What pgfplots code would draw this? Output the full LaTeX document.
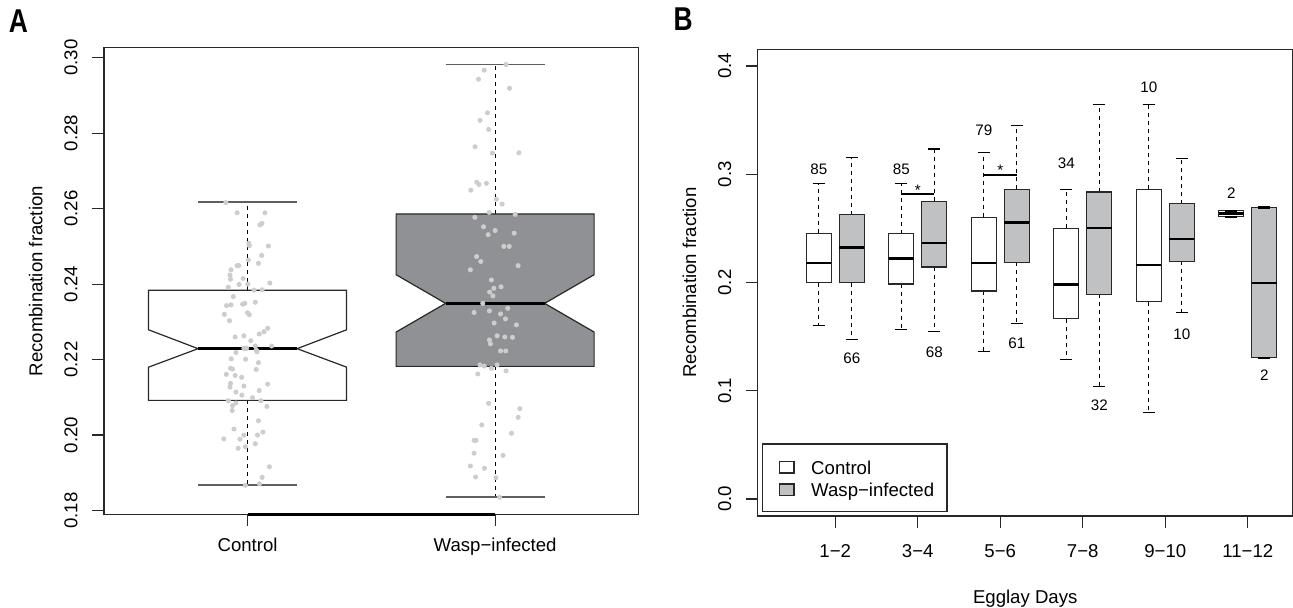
\documentclass[border=0pt]{standalone}
\usepackage{fontspec}
\setmainfont{Liberation Sans}
\usepackage{pgfplots}
\pgfplotsset{compat=1.18}
\definecolor{waspA}{RGB}{144,145,148}
\definecolor{waspB}{RGB}{192,193,195}
\definecolor{ptc}{RGB}{205,205,205}
\definecolor{frm}{RGB}{40,40,40}
\definecolor{capc}{RGB}{95,95,95}
\tikzset{wdash/.style={black, line width=0.6pt, dash pattern=on 2pt off 2pt}}
\begin{document}
\fontsize{9.3pt}{11pt}\selectfont
\begin{tikzpicture}
\useasboundingbox (0,0) rectangle (646.5pt,303.5pt);
\pgfplotsset{
  common/.style={
    scale only axis,
    axis line style={frm, line width=0.6pt},
    tick style={frm, line width=0.6pt},
    tick align=outside,
    major tick length=5.75pt,
    tick pos=left,
    unbounded coords=jump,
    /pgf/number format/assume math mode=true,
    yticklabel style={xshift=-7.6pt, rotate=90, anchor=base},
    every axis y label/.style={at={(axis description cs:0,0.5)}, xshift=-30.85pt, rotate=90, anchor=base},
    clip=false,
  },
}
% ---------------- Panel A ----------------
\node[anchor=base west, inner sep=0pt, font=\fontsize{16.5pt}{18pt}\selectfont\bfseries, xscale=0.8] at (4.3pt,287.2pt) {A};
\begin{axis}[common, at={(52pt,46.15pt)}, anchor=south west,
  width=267.35pt, height=233.5pt,
  xmin=0.42, xmax=2.58, ymin=0.1789, ymax=0.30265,
  xtick={1,2}, xticklabels={Control, Wasp−infected},
  xticklabel style={anchor=base, yshift=-12.75pt},
  ytick={0.18,0.20,0.22,0.24,0.26,0.28,0.30},
  yticklabel style={/pgf/number format/fixed, /pgf/number format/fixed zerofill, /pgf/number format/precision=2},
  ylabel={Recombination fraction}]
% whiskers
\addplot[wdash] coordinates {(1,0.2384) (1,0.2617)};
\addplot[wdash] coordinates {(1,0.2092) (1,0.1867)};
\addplot[wdash] coordinates {(2,0.2586) (2,0.2982)};
\addplot[wdash] coordinates {(2,0.2182) (2,0.1836)};
\addplot[capc, line width=0.8pt] coordinates {(0.8,0.2617) (1.2,0.2617)};
\addplot[capc, line width=0.8pt] coordinates {(0.8,0.1867) (1.2,0.1867)};
\addplot[capc, line width=0.8pt] coordinates {(1.8,0.2982) (2.2,0.2982)};
\addplot[capc, line width=0.8pt] coordinates {(1.8,0.1836) (2.2,0.1836)};
% notched boxes
\addplot[draw=frm, line width=0.6pt, fill=white] coordinates {(0.6,0.2092) (1.4,0.2092) (1.4,0.2180) (1.2,0.2229) (1.4,0.2279) (1.4,0.2384) (0.6,0.2384) (0.6,0.2279) (0.8,0.2229) (0.6,0.2180)} -- cycle;
\addplot[draw=frm, line width=0.6pt, fill=waspA] coordinates {(1.6,0.2182) (2.4,0.2182) (2.4,0.2273) (2.2,0.2349) (2.4,0.2425) (2.4,0.2586) (1.6,0.2586) (1.6,0.2425) (1.8,0.2349) (1.6,0.2273)} -- cycle;
\addplot[black, line width=1.4pt] coordinates {(0.8,0.2229) (1.2,0.2229)};
\addplot[black, line width=1.4pt] coordinates {(1.8,0.2349) (2.2,0.2349)};
% axis line between ticks
\addplot[black, line width=1.3pt] coordinates {(1,0.1789) (2,0.1789)};
% jittered points
\addplot[only marks, mark=*, color=ptc, mark size=1.05pt, mark options={draw=ptc, fill=ptc}] coordinates {
(0.912,0.2616) (0.958,0.2589) (1.070,0.2589) (1.050,0.2557) (1.058,0.2561)
(1.005,0.2508) (1.007,0.2502) (1.084,0.2501) (1.057,0.2476) (1.003,0.2464)
(1.044,0.2455) (0.933,0.2438) (0.958,0.2449) (0.965,0.2449) (0.929,0.2424)
(0.982,0.2415) (0.931,0.2413) (1.090,0.2403) (0.922,0.2392) (0.966,0.2399)
(1.001,0.2400) (1.026,0.2384) (1.059,0.2385) (0.942,0.2367) (0.915,0.2343)
(0.933,0.2345) (0.980,0.2347) (0.989,0.2349) (1.031,0.2352) (0.906,0.2320)
(1.000,0.2324) (1.007,0.2319) (0.927,0.2303) (1.081,0.2283) (1.066,0.2274)
(1.047,0.2268) (0.950,0.2260) (0.985,0.2263) (1.013,0.2250) (1.097,0.2236)
(0.985,0.2230) (0.996,0.2230) (1.031,0.2236) (1.035,0.2226) (1.038,0.2221)
(0.989,0.2230) (0.953,0.2219) (0.992,0.2201) (0.934,0.2202) (1.044,0.2192)
(0.931,0.2177) (0.939,0.2175) (1.035,0.2174) (0.914,0.2161) (0.950,0.2158)
(0.976,0.2153) (0.931,0.2137) (0.929,0.2127) (0.985,0.2130) (1.081,0.2135)
(0.953,0.2114) (0.977,0.2106) (1.047,0.2118) (1.020,0.2099) (0.922,0.2091)
(0.953,0.2085) (0.939,0.2078) (0.938,0.2065) (1.054,0.2091) (1.078,0.2076)
(1.044,0.2038) (0.945,0.2016) (1.062,0.2008) (1.040,0.2000) (0.985,0.2000)
(0.969,0.1989) (0.904,0.1990) (0.991,0.1969) (0.962,0.1965) (1.031,0.1977)
(1.088,0.1916) (1.059,0.1888) (1.048,0.1871) (0.991,0.1867)
};
\addplot[only marks, mark=*, color=ptc, mark size=1.05pt, mark options={draw=ptc, fill=ptc}] coordinates {
(2.044,0.2982) (1.956,0.2967) (1.933,0.2943) (2.058,0.2919) (1.969,0.2854)
(1.939,0.2834) (1.974,0.2810) (1.919,0.2764) (1.989,0.2747) (2.096,0.2748)
(1.926,0.2670) (1.935,0.2664) (1.965,0.2667) (1.902,0.2649) (2.005,0.2625)
(2.028,0.2612) (1.976,0.2590) (2.081,0.2585) (1.918,0.2577) (1.953,0.2552)
(2.000,0.2542) (1.972,0.2531) (2.077,0.2535) (2.035,0.2500) (2.057,0.2500)
(1.925,0.2473) (1.942,0.2460) (1.900,0.2438) (2.093,0.2449) (1.985,0.2411)
(2.024,0.2393) (1.995,0.2389) (1.978,0.2379) (1.991,0.2369) (1.950,0.2349)
(1.915,0.2325) (1.977,0.2329) (2.051,0.2336) (2.022,0.2321) (2.042,0.2308)
(1.996,0.2297) (2.086,0.2292) (2.008,0.2263) (2.039,0.2260) (2.070,0.2259)
(1.977,0.2252) (1.981,0.2242) (2.022,0.2223) (2.043,0.2223) (1.939,0.2186)
(1.956,0.2183) (2.008,0.2186) (1.985,0.2177) (1.930,0.2162) (2.044,0.2170)
(1.974,0.2084) (2.100,0.2070) (2.093,0.2047) (1.946,0.2027) (2.066,0.2005)
(1.915,0.1986) (1.923,0.1986) (1.915,0.1952) (2.032,0.1946) (1.900,0.1918)
(1.957,0.1912) (1.921,0.1889) (2.003,0.1887) (2.018,0.1835)
};
\end{axis}
% ---------------- Panel B ----------------
\node[anchor=base west, inner sep=0pt, font=\fontsize{16.5pt}{18pt}\selectfont\bfseries, xscale=0.8] at (336.6pt,288.2pt) {B};
\begin{axis}[common, at={(378.85pt,45.5pt)}, anchor=south west,
  width=267.5pt, height=233.35pt,
  xmin=0.06, xmax=6.545, ymin=-0.0157, ymax=0.4154,
  xtick={1,2,3,4,5,6}, xticklabels={1−2,3−4,5−6,7−8,9−10,11−12},
  xticklabel style={anchor=base, yshift=-14.9pt},
  ytick={0,0.1,0.2,0.3,0.4},
  yticklabel style={/pgf/number format/fixed, /pgf/number format/fixed zerofill, /pgf/number format/precision=1},
  xlabel={Egglay Days},
  every axis x label/.style={at={(axis description cs:0.5,0)}, anchor=base, yshift=-43.65pt},
  ylabel={Recombination fraction},
]
% dashed whiskers (quartile to whisker end)
\addplot[wdash] coordinates {
(0.8,0.2456) (0.8,0.2915) (0.8,nan) (0.8,0.1997) (0.8,0.160) (0.8,nan)
(1.8,0.2449) (1.8,0.2911) (1.8,nan) (1.8,0.1986) (1.8,0.1563) (1.8,nan)
(2.8,0.2603) (2.8,0.3202) (2.8,nan) (2.8,0.1922) (2.8,0.1363) (2.8,nan)
(3.8,0.2499) (3.8,0.2861) (3.8,nan) (3.8,0.1667) (3.8,0.1291) (3.8,nan)
(4.8,0.2861) (4.8,0.3646) (4.8,nan) (4.8,0.1821) (4.8,0.0800) (4.8,nan)
(1.2,0.2625) (1.2,0.3152) (1.2,nan) (1.2,0.1997) (1.2,0.1477) (1.2,nan)
(2.2,0.2750) (2.2,0.3234) (2.2,nan) (2.2,0.2144) (2.2,0.1545) (2.2,nan)
(3.2,0.2861) (3.2,0.3453) (3.2,nan) (3.2,0.2187) (3.2,0.1624) (3.2,nan)
(4.2,0.2836) (4.2,0.3646) (4.2,nan) (4.2,0.1890) (4.2,0.1036) (4.2,nan)
(5.2,0.2729) (5.2,0.3144) (5.2,nan) (5.2,0.2194) (5.2,0.1725)
};
% whisker caps
\addplot[black, line width=0.6pt] coordinates {
(0.725,0.2915) (0.875,0.2915) (nan,nan) (0.725,0.160) (0.875,0.160) (nan,nan)
(1.725,0.2911) (1.875,0.2911) (nan,nan) (1.725,0.1563) (1.875,0.1563) (nan,nan)
(2.725,0.3202) (2.875,0.3202) (nan,nan) (2.725,0.1363) (2.875,0.1363) (nan,nan)
(3.725,0.2861) (3.875,0.2861) (nan,nan) (3.725,0.1291) (3.875,0.1291) (nan,nan)
(4.725,0.3646) (4.875,0.3646) (nan,nan) (4.725,0.0800) (4.875,0.0800) (nan,nan)
(1.125,0.3152) (1.275,0.3152) (nan,nan) (1.125,0.1477) (1.275,0.1477) (nan,nan)
(2.125,0.3234) (2.275,0.3234) (nan,nan) (2.125,0.1545) (2.275,0.1545) (nan,nan)
(3.125,0.3453) (3.275,0.3453) (nan,nan) (3.125,0.1624) (3.275,0.1624) (nan,nan)
(4.125,0.3646) (4.275,0.3646) (nan,nan) (4.125,0.1036) (4.275,0.1036) (nan,nan)
(5.125,0.3144) (5.275,0.3144) (nan,nan) (5.125,0.1725) (5.275,0.1725)
};
% boxes: control
\addplot[draw=frm, line width=0.6pt, fill=white] coordinates {(0.65,0.1997) (0.95,0.1997) (0.95,0.2456) (0.65,0.2456)} -- cycle;
\addplot[draw=frm, line width=0.6pt, fill=white] coordinates {(1.65,0.1986) (1.95,0.1986) (1.95,0.2449) (1.65,0.2449)} -- cycle;
\addplot[draw=frm, line width=0.6pt, fill=white] coordinates {(2.65,0.1922) (2.95,0.1922) (2.95,0.2603) (2.65,0.2603)} -- cycle;
\addplot[draw=frm, line width=0.6pt, fill=white] coordinates {(3.65,0.1667) (3.95,0.1667) (3.95,0.2499) (3.65,0.2499)} -- cycle;
\addplot[draw=frm, line width=0.6pt, fill=white] coordinates {(4.65,0.1821) (4.95,0.1821) (4.95,0.2861) (4.65,0.2861)} -- cycle;
\addplot[draw=frm, line width=0.6pt, fill=white] coordinates {(5.65,0.2607) (5.95,0.2607) (5.95,0.2664) (5.65,0.2664)} -- cycle;
% boxes: wasp
\addplot[draw=frm, line width=0.6pt, fill=waspB] coordinates {(1.05,0.1997) (1.35,0.1997) (1.35,0.2625) (1.05,0.2625)} -- cycle;
\addplot[draw=frm, line width=0.6pt, fill=waspB] coordinates {(2.05,0.2144) (2.35,0.2144) (2.35,0.2750) (2.05,0.2750)} -- cycle;
\addplot[draw=frm, line width=0.6pt, fill=waspB] coordinates {(3.05,0.2187) (3.35,0.2187) (3.35,0.2861) (3.05,0.2861)} -- cycle;
\addplot[draw=frm, line width=0.6pt, fill=waspB] coordinates {(4.05,0.1890) (4.35,0.1890) (4.35,0.2836) (4.05,0.2836)} -- cycle;
\addplot[draw=frm, line width=0.6pt, fill=waspB] coordinates {(5.05,0.2194) (5.35,0.2194) (5.35,0.2729) (5.05,0.2729)} -- cycle;
\addplot[draw=frm, line width=0.6pt, fill=waspB] coordinates {(6.05,0.1305) (6.35,0.1305) (6.35,0.2693) (6.05,0.2693)} -- cycle;
% caps for 11-12 (coincide with box edges)
\addplot[black, line width=1.1pt] coordinates {
(5.725,0.2607) (5.875,0.2607) (nan,nan) (5.725,0.2664) (5.875,0.2664) (nan,nan)
(6.125,0.1305) (6.275,0.1305) (nan,nan) (6.125,0.2693) (6.275,0.2693)
};
% medians
\addplot[black, line width=1.3pt] coordinates {
(0.65,0.2180) (0.95,0.2180) (nan,nan) (1.65,0.2223) (1.95,0.2223) (nan,nan)
(2.65,0.2180) (2.95,0.2180) (nan,nan) (3.65,0.1983) (3.95,0.1983) (nan,nan)
(4.65,0.2162) (4.95,0.2162) (nan,nan) (5.65,0.2635) (5.95,0.2635) (nan,nan)
(1.05,0.2323) (1.35,0.2323) (nan,nan) (2.05,0.2363) (2.35,0.2363) (nan,nan)
(3.05,0.2553) (3.35,0.2553) (nan,nan) (4.05,0.2503) (4.35,0.2503) (nan,nan)
(5.05,0.2402) (5.35,0.2402) (nan,nan) (6.05,0.1997) (6.35,0.1997)
};
% significance brackets
\addplot[black, line width=0.8pt] coordinates {(1.8,0.2817) (2.2,0.2817)};
\addplot[black, line width=0.8pt] coordinates {(2.8,0.2993) (3.2,0.2993)};
\node[font=\fontsize{7.6pt}{9pt}\selectfont] at (axis cs:2.0,0.2855) {*};
\node[font=\fontsize{7.6pt}{9pt}\selectfont] at (axis cs:3.0,0.3035) {*};
% sample sizes
\begin{scope}[every node/.style={font=\fontsize{7.6pt}{9pt}\selectfont, inner sep=0pt}]
\node at (axis cs:0.8,0.305) {85};
\node at (axis cs:1.2,0.130) {66};
\node at (axis cs:1.8,0.305) {85};
\node at (axis cs:2.2,0.1355) {68};
\node at (axis cs:2.8,0.341) {79};
\node at (axis cs:3.2,0.1437) {61};
\node at (axis cs:3.8,0.3104) {34};
\node at (axis cs:4.2,0.0864) {32};
\node at (axis cs:4.8,0.380) {10};
\node at (axis cs:5.2,0.1523) {10};
\node at (axis cs:5.8,0.2824) {2};
\node at (axis cs:6.2,0.1147) {2};
\end{scope}
% legend
\draw[frm, line width=0.6pt, fill=white] (axis description cs:0.00935,0.0092) rectangle (axis description cs:0.3538,0.1543);
\draw[frm, line width=0.6pt, fill=white] (axis description cs:0.0404,0.0921) rectangle (axis description cs:0.0678,0.1163);
\draw[frm, line width=0.6pt, fill=waspB] (axis description cs:0.0404,0.0444) rectangle (axis description cs:0.0678,0.0686);
\node[anchor=base west, inner sep=0pt] at (axis description cs:0.0993,0.0896) {Control};
\node[anchor=base west, inner sep=0pt] at (axis description cs:0.0993,0.0422) {Wasp−infected};
\end{axis}
\end{tikzpicture}
\end{document}
